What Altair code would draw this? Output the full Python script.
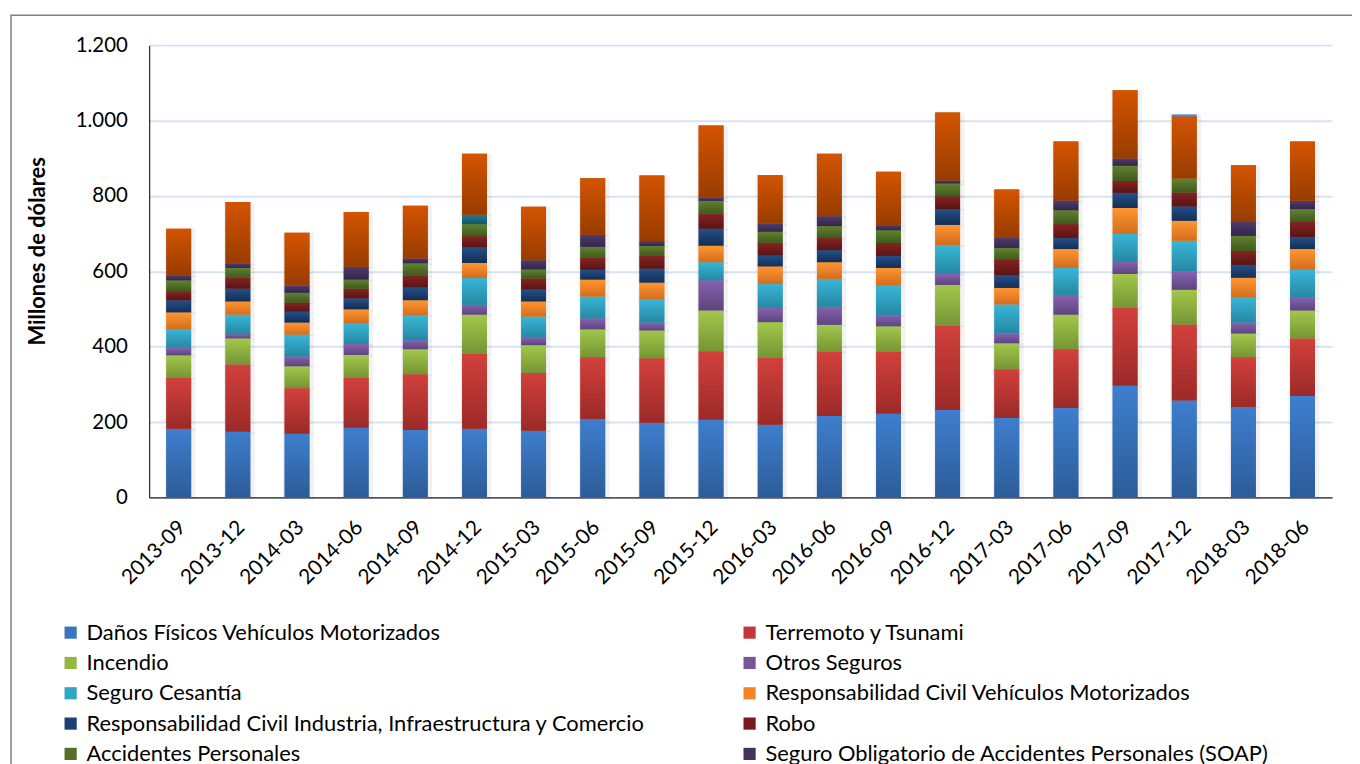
import altair as alt
import pandas as pd

periods = ["2013-09", "2013-12", "2014-03", "2014-06", "2014-09", "2014-12", "2015-03",
           "2015-06", "2015-09", "2015-12", "2016-03", "2016-06", "2016-09", "2016-12",
           "2017-03", "2017-06", "2017-09", "2017-12", "2018-03", "2018-06"]

series_names = [
    "Daños Físicos Vehículos Motorizados",
    "Terremoto y Tsunami",
    "Incendio",
    "Otros Seguros",
    "Seguro Cesantía",
    "Responsabilidad Civil Vehículos Motorizados",
    "Responsabilidad Civil Industria, Infraestructura y Comercio",
    "Robo",
    "Accidentes Personales",
    "Seguro Obligatorio de Accidentes Personales (SOAP)",
    "Transporte",
    "Resto de Ramos",
    "Garantía",
]

danos = [182, 174, 169, 185, 179, 182, 177, 208, 198, 206, 193, 216, 222, 232, 211, 237, 296, 257, 240, 269]
terremoto = [135, 179, 121, 132, 148, 200, 153, 164, 171, 182, 177, 171, 164, 224, 129, 156, 207, 202, 132, 153]
incendio = [60, 69, 58, 61, 66, 103, 74, 74, 74, 108, 95, 71, 68, 108, 69, 92, 90, 92, 63, 74]
otros = [20, 11, 26, 29, 24, 26, 21, 29, 21, 80, 38, 48, 29, 29, 26, 50, 32, 48, 29, 34]
cesantia = [49, 52, 58, 55, 66, 71, 55, 58, 61, 48, 63, 74, 79, 77, 77, 74, 74, 82, 66, 74]
rc_vehiculos = [45, 35, 32, 37, 40, 40, 40, 45, 45, 44, 47, 44, 47, 53, 44, 50, 69, 53, 53, 55]
rc_industria = [32, 34, 29, 29, 34, 42, 32, 26, 37, 45, 29, 32, 32, 42, 34, 29, 40, 38, 34, 32]
robo = [24, 29, 24, 26, 32, 29, 29, 32, 34, 40, 34, 32, 34, 34, 40, 37, 32, 37, 37, 40]
acc_personales = [29, 26, 26, 24, 32, 32, 24, 29, 26, 34, 29, 32, 34, 34, 32, 37, 40, 37, 40, 34]
soap = [13, 11, 19, 34, 13, 0, 24, 32, 13, 8, 21, 26, 13, 8, 26, 26, 19, 0, 37, 22]
transporte = [0, 0, 0, 0, 0, 25, 0, 0, 0, 0, 0, 0, 0, 0, 0, 0, 0, 0, 0, 0]
resto = [124, 164, 140, 145, 140, 162, 142, 150, 174, 192, 129, 166, 142, 180, 129, 156, 181, 165, 150, 157]
garantia = [0, 0, 0, 0, 0, 0, 0, 0, 0, 0, 0, 0, 0, 0, 0, 0, 0, 5, 0, 0]

all_values = [danos, terremoto, incendio, otros, cesantia, rc_vehiculos, rc_industria,
              robo, acc_personales, soap, transporte, resto, garantia]

# gradient colors (top, bottom) and legend colour per series
grad_top = ["#3E7ECE", "#D2403C", "#A2C74C", "#8562AF", "#38B6D7", "#FF9530",
            "#23508A", "#852322", "#618131", "#4F3B6C", "#207C91", "#D35400", "#6A9BDD"]
grad_bot = ["#2C5C98", "#9B2A28", "#759533", "#5D447E", "#2687A2", "#D36D1D",
            "#132E53", "#591414", "#3E5A1B", "#34254A", "#135667", "#983C00", "#4A7BBE"]
legend_col = ["#3A74BE", "#C1393A", "#93B743", "#765699", "#31A5C4", "#F58427",
              "#1C416F", "#761C1C", "#526E27", "#44325C", "#1A6A7C", "#BD4A00", "#5F8FD2"]

rows = []
for si, (name, vals) in enumerate(zip(series_names, all_values)):
    for p, v in zip(periods, vals):
        rows.append({"period": p, "series": name, "order": si, "value": v})
df = pd.DataFrame(rows)

# legend fills column by column: reorder so that it reads row by row (2 columns)
leg_idx = list(range(0, len(series_names), 2)) + list(range(1, len(series_names), 2))
leg_domain = [series_names[i] for i in leg_idx]
leg_range = [legend_col[i] for i in leg_idx]

font = "Lato"

x_enc = alt.X("period:N", sort=periods,
              scale=alt.Scale(paddingInner=0.58, paddingOuter=0.29),
              axis=alt.Axis(title=None, labelAngle=-45, labelFontSize=21, labelFont=font,
                            labelColor="#000000", labelPadding=19, labelOffset=-4, ticks=False,
                            domainColor="#262626", domainWidth=1.2, grid=False,
                            labelAlign="right", labelBaseline="top"))
y_scale = alt.Scale(domain=[0, 1200])


def base():
    return alt.Chart(df).transform_stack(
        stack="value", groupby=["period"], as_=["v0", "v1"],
        sort=[alt.SortField("order", order="ascending")]
    )


y_axis = alt.Axis(values=[0, 200, 400, 600, 800, 1000, 1200],
                  labelExpr="replace(format(datum.value, ','), ',', '.')",
                  labelFontSize=20.5, labelFont=font, labelColor="#000000",
                  labelPadding=22, ticks=False, domainColor="#262626", domainWidth=1.2,
                  gridColor="#D7E3F3", gridWidth=2,
                  title="Millones de dólares", titleFont=font, titleFontSize=22,
                  titleFontWeight="bold", titleColor="#000000", titleAngle=270,
                  titleX=-112, titleY=207, titleAlign="center", titleBaseline="middle")

legend_layer = base().mark_bar().encode(
    x=x_enc,
    y=alt.Y("v0:Q", scale=y_scale, axis=y_axis),
    y2="v1:Q",
    color=alt.Color("series:N",
                    scale=alt.Scale(domain=leg_domain, range=leg_range),
                    sort=leg_domain,
                    legend=alt.Legend(title=None, orient="none", legendX=-90, legendY=580,
                                      columns=2, symbolType="square", symbolSize=150,
                                      symbolStrokeWidth=0, labelFont=font, labelFontSize=22,
                                      labelColor="#000000", labelLimit=1000,
                                      rowPadding=8.5, columnPadding=94, labelOffset=5,
                                      gridAlign="all")),
)

shadow = base().transform_filter("datum.value > 0").mark_bar(
    color="#000000", opacity=0.05, width=31, xOffset=1.5, yOffset=1.5
).encode(x=x_enc, y=alt.Y("v0:Q", scale=y_scale), y2="v1:Q")

layers = [shadow, legend_layer]
for si, name in enumerate(series_names):
    grad = {
        "gradient": "linear", "x1": 0, "y1": 0, "x2": 0, "y2": 1,
        "stops": [{"offset": 0, "color": grad_top[si]}, {"offset": 1, "color": grad_bot[si]}],
    }
    layer = base().transform_filter(
        alt.datum.series == name
    ).transform_filter("datum.value > 0").mark_bar(fill=grad).encode(
        x=x_enc, y=alt.Y("v0:Q", scale=y_scale), y2="v1:Q"
    )
    layers.append(layer)

border = alt.Chart(pd.DataFrame({"a": [0]})).mark_rect(
    fillOpacity=0, stroke="#7F7F7F", strokeWidth=1.5
).encode(x=alt.value(-139), x2=alt.value(1400), y=alt.value(-30), y2=alt.value(900))

chart = alt.layer(border, *layers).properties(
    width=1190, height=455,
    autosize=alt.AutoSizeParams(type="none"),
    padding={"left": 142, "top": 35, "right": 20, "bottom": 300},
).configure_view(stroke=None).configure_axis(gridOpacity=1)

chart.save("out.html", embed_options={"renderer": "svg", "actions": False})
